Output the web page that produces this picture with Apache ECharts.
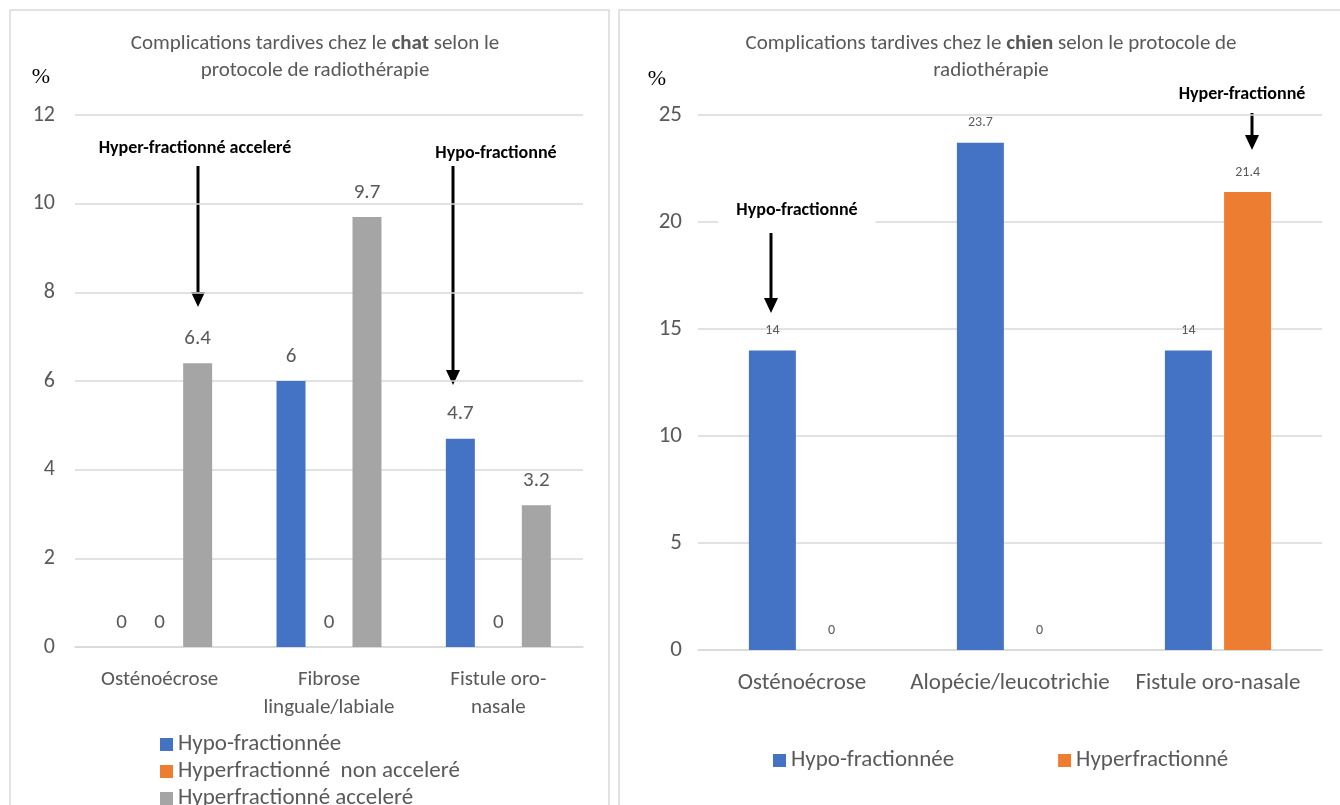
<!DOCTYPE html>
<html>
<head>
<meta charset="utf-8">
<script src="https://cdn.jsdelivr.net/npm/echarts@6/dist/echarts.min.js"></script>
<style>
html,body{margin:0;padding:0;background:#fff;overflow:hidden;}
#c{width:1340px;height:805px;}
</style>
</head>
<body>
<div id="c"></div>
<script>
// ---- Data: chat (cat) ----
const catCategories = ['Osténoécrose', 'Fibrose\nlinguale/labiale', 'Fistule oro-\nnasale'];
const catHypo = [0, 6, 4.7];
const catHyperNonAcc = [0, 0, 0];
const catHyperAcc = [6.4, 9.7, 3.2];
const catSeriesNames = ['Hypo-fractionnée', 'Hyperfractionné  non acceleré', 'Hyperfractionné acceleré'];
const catAxisMax = 12, catAxisStep = 2;

// ---- Data: chien (dog) ----
const dogCategories = ['Osténoécrose', 'Alopécie/leucotrichie', 'Fistule oro-nasale'];
const dogHypo = [14, 23.7, 14];
const dogHyper = [0, 0, 21.4];
const dogSeriesNames = ['Hypo-fractionnée', 'Hyperfractionné'];
const dogAxisMax = 25, dogAxisStep = 5;

const BLUE = '#4472C4', ORANGE = '#ED7D31', GRAY = '#A5A5A5';
const TXT = '#595959';
const FONT = 'Carlito, Lato, sans-serif';
const GRID = '#d9d9d9';

const chart = echarts.init(document.getElementById('c'), null, {renderer: 'canvas'});

function arrow(x, y1, y2) {
  return {
    type: 'group',
    children: [
      {type: 'line', shape: {x1: x, y1: y1, x2: x, y2: y2 - 12}, style: {stroke: '#000', lineWidth: 3}},
      {type: 'polygon', shape: {points: [[x - 7, y2 - 15], [x + 7, y2 - 15], [x, y2]]}, style: {fill: '#000'}}
    ]
  };
}
function note(x, y, text, bg) {
  return {
    type: 'text', x: x, y: y, z: 10,
    style: {text: text, font: 'bold 18px ' + FONT, fill: '#000', align: 'center', verticalAlign: 'middle',
      backgroundColor: bg ? '#fff' : null, padding: bg ? [6, 18] : 0}
  };
}

const richTitle = {
  n: {fontSize: 21, color: TXT, fontFamily: FONT, fontWeight: 'normal', lineHeight: 27},
  b: {fontSize: 21, color: TXT, fontFamily: FONT, fontWeight: 'bold', lineHeight: 27}
};

const catLabel = {show: true, position: 'top', distance: 14, fontSize: 21, color: TXT, fontFamily: FONT};
const dogLabel = {show: true, position: 'top', distance: 13, fontSize: 14, color: TXT, fontFamily: FONT};

chart.setOption({
  animation: false,
  backgroundColor: '#fff',
  title: [
    {
      text: '{n|Complications tardives chez le }{b|chat}{n| selon le}\n{n|protocole de radiothérapie}',
      left: 310, top: 25, textAlign: 'center',
      textStyle: {rich: richTitle, fontSize: 21, fontWeight: 'normal', color: TXT, fontFamily: FONT, lineHeight: 27}
    },
    {
      text: '{n|Complications tardives chez le }{b|chien}{n| selon le protocole de}\n{n|radiothérapie}',
      left: 986, top: 25, textAlign: 'center',
      textStyle: {rich: richTitle, fontSize: 21, fontWeight: 'normal', color: TXT, fontFamily: FONT, lineHeight: 27}
    }
  ],
  legend: [
    {
      data: catSeriesNames, orient: 'vertical', left: 155, top: 728, height: 120,
      itemWidth: 13, itemHeight: 13, itemGap: 4, icon: 'rect',
      textStyle: {fontSize: 23, lineHeight: 23, color: TXT, fontFamily: FONT}
    },
    {
      data: dogSeriesNames, orient: 'horizontal', left: 768, top: 744,
      itemWidth: 13, itemHeight: 13, itemGap: 104, icon: 'rect',
      textStyle: {fontSize: 23, lineHeight: 23, color: TXT, fontFamily: FONT}
    }
  ],
  grid: [
    {left: 75, top: 115, width: 508, height: 532},
    {left: 698, top: 115, width: 624, height: 535}
  ],
  xAxis: [
    {
      type: 'category', gridIndex: 0, data: catCategories,
      axisLine: {lineStyle: {color: GRID, width: 1.5}}, axisTick: {show: false},
      axisLabel: {fontSize: 21, color: TXT, fontFamily: FONT, margin: 19, lineHeight: 28, interval: 0}
    },
    {
      type: 'category', gridIndex: 1, data: dogCategories,
      axisLine: {lineStyle: {color: GRID, width: 1.5}}, axisTick: {show: false},
      axisLabel: {fontSize: 23, color: TXT, fontFamily: FONT, margin: 22, interval: 0}
    }
  ],
  yAxis: [
    {
      type: 'value', gridIndex: 0, min: 0, max: catAxisMax, interval: catAxisStep,
      axisLine: {show: false}, axisTick: {show: false},
      splitLine: {lineStyle: {color: GRID, width: 1.5}},
      axisLabel: {fontSize: 22, color: TXT, fontFamily: FONT, margin: 20}
    },
    {
      type: 'value', gridIndex: 1, min: 0, max: dogAxisMax, interval: dogAxisStep,
      axisLine: {show: false}, axisTick: {show: false},
      splitLine: {lineStyle: {color: GRID, width: 1.5}},
      axisLabel: {fontSize: 23, color: TXT, fontFamily: FONT, margin: 16}
    }
  ],
  series: [
    {name: catSeriesNames[0], type: 'bar', xAxisIndex: 0, yAxisIndex: 0, data: catHypo,
      barWidth: 29, barGap: '31%', itemStyle: {color: BLUE}, label: catLabel},
    {name: catSeriesNames[1], type: 'bar', xAxisIndex: 0, yAxisIndex: 0, data: catHyperNonAcc,
      barWidth: 29, barGap: '31%', itemStyle: {color: ORANGE}, label: catLabel},
    {name: catSeriesNames[2], type: 'bar', xAxisIndex: 0, yAxisIndex: 0, data: catHyperAcc,
      barWidth: 29, barGap: '31%', itemStyle: {color: GRAY}, label: catLabel},
    {name: dogSeriesNames[0], type: 'bar', xAxisIndex: 1, yAxisIndex: 1, data: dogHypo,
      barWidth: 47, barGap: '26%', itemStyle: {color: BLUE}, label: dogLabel},
    {name: dogSeriesNames[1], type: 'bar', xAxisIndex: 1, yAxisIndex: 1, data: dogHyper,
      barWidth: 47, barGap: '26%', itemStyle: {color: ORANGE}, label: dogLabel}
  ],
  graphic: [
    {type: 'rect', shape: {x: 10, y: 10, width: 599, height: 820}, style: {fill: null, stroke: GRID, lineWidth: 1.5}, z: -1, silent: true},
    {type: 'rect', shape: {x: 619, y: 10, width: 740, height: 820}, style: {fill: null, stroke: GRID, lineWidth: 1.5}, z: -1, silent: true},
    {type: 'text', x: 41, y: 77, style: {text: '%', font: '22px "Liberation Serif", serif', fill: '#000', align: 'center', verticalAlign: 'middle'}},
    {type: 'text', x: 657, y: 79, style: {text: '%', font: '22px "Liberation Serif", serif', fill: '#000', align: 'center', verticalAlign: 'middle'}},
    note(195, 148, 'Hyper-fractionné acceleré'),
    arrow(198, 166, 307),
    note(496, 153, 'Hypo-fractionné'),
    arrow(453, 166, 385),
    note(797, 210, 'Hypo-fractionné', true),
    arrow(771, 233, 313),
    note(1242, 94, 'Hyper-fractionné'),
    arrow(1252, 113, 150)
  ]
});
</script>
</body>
</html>
